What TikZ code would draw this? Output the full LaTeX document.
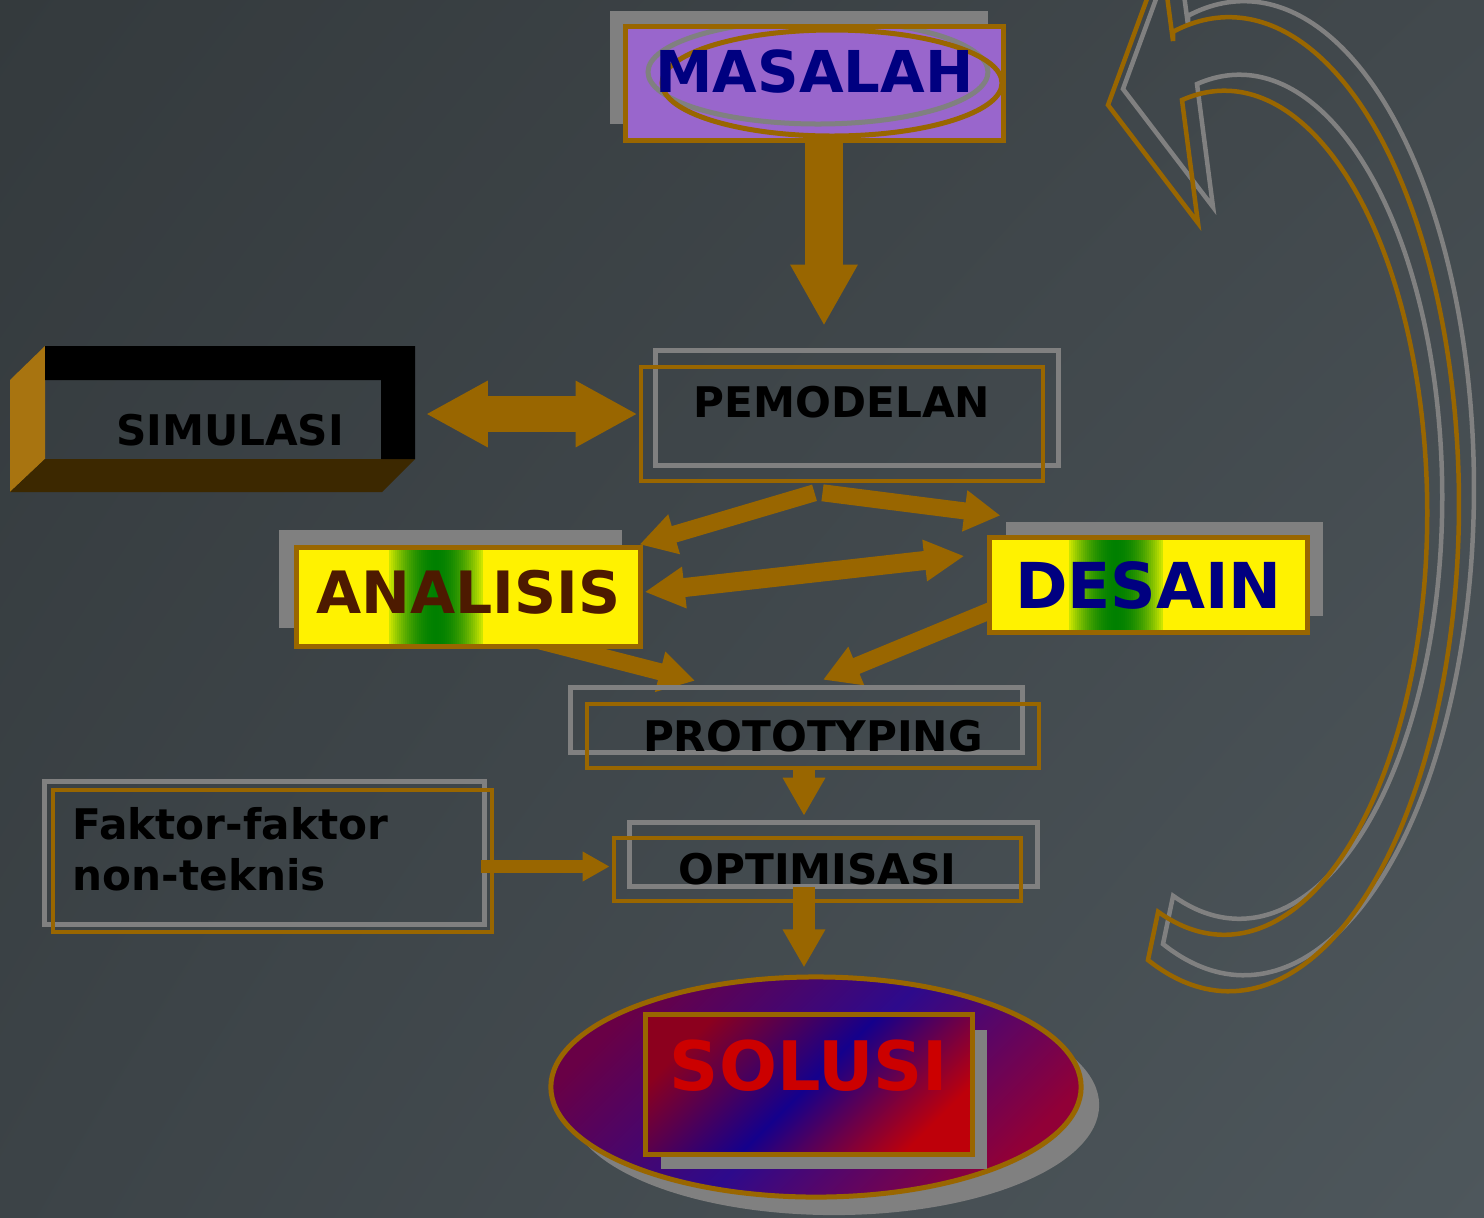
\documentclass[tikz,border=0pt]{standalone}
\usepackage{fontspec}
\setmainfont{DejaVu Sans}
\usepackage{xcolor}
\usepackage{tikz}
\usetikzlibrary{arrows.meta, shapes.geometric, shadows, shadings}

\definecolor{ochre}{RGB}{153,102,0}
\definecolor{shadowgray}{RGB}{128,128,128}
\definecolor{lilac}{RGB}{153,102,204}
\definecolor{navyblue}{RGB}{0,0,128}
\definecolor{darkbrown}{RGB}{77,26,0}
\definecolor{leafgreen}{RGB}{0,128,0}
\definecolor{solred}{RGB}{204,0,0}
\definecolor{sideface}{RGB}{168,116,16}
\definecolor{floorface}{RGB}{60,40,0}
\definecolor{bgtl}{RGB}{52,58,61}
\definecolor{bgtr}{RGB}{66,73,77}
\definecolor{bgbl}{RGB}{60,67,71}
\definecolor{bgbr}{RGB}{78,87,92}
\definecolor{ovaltop}{RGB}{105,0,70}
\definecolor{ovalmid}{RGB}{45,10,140}
\definecolor{ovalbot}{RGB}{145,0,55}
\definecolor{recttop}{RGB}{140,0,30}
\definecolor{rectmid}{RGB}{20,0,140}
\definecolor{rectbot}{RGB}{190,0,10}

\pgfdeclarelayer{under}
\pgfsetlayers{under,main}

\begin{document}
\begin{tikzpicture}[
  x = 0.01cm, y = -0.01cm,
  every node/.style = {inner sep=0pt},
  smalltext/.style = {font=\bfseries\fontsize{12}{14.4}\selectfont},
  bigtext/.style = {font=\bfseries\fontsize{#1}{#1}\selectfont},
  framebox/.style = {draw=ochre, line width=0.045cm, rectangle},
  ghost/.style 2 args = {general shadow={draw=shadowgray, line width=0.05cm,
      shadow xshift=#1, shadow yshift=#2}},
  ghostfill/.style 2 args = {general shadow={fill=shadowgray,
      shadow xshift=#1, shadow yshift=#2}},
  greenband/.style = {path picture={
      \foreach \i in {-23,...,23}{
        \pgfmathsetmacro\p{100-80*(\i/23)^2}
        \fill[leafgreen!\p!yellow]
          ([shift={(2*\i-34,-60)}]path picture bounding box.center) rectangle ++(2.3,120);
      }}},
  bigflow/.style = {draw=ochre, line width=0.37cm,
      -{Triangle[length=0.61cm, width=0.63cm]}},
  twoway/.style = {draw=ochre, line width=0.36cm,
      {Triangle[length=0.62cm, width=0.62cm]}-{Triangle[length=0.62cm, width=0.62cm]}},
  flow/.style = {draw=ochre, line width=0.17cm,
      -{Triangle[length=0.36cm, width=0.39cm]}},
  flowboth/.style = {draw=ochre, line width=0.19cm,
      {Triangle[length=0.40cm, width=0.39cm]}-{Triangle[length=0.40cm, width=0.39cm]}},
  downflow/.style = {draw=ochre, line width=0.22cm,
      -{Triangle[length=0.38cm, width=0.40cm]}},
  sideflow/.style = {draw=ochre, line width=0.13cm,
      -{Triangle[length=0.27cm, width=0.28cm]}},
  pics/loopback/.style = {code={
      \draw[line width=0.045cm, line join=miter]
        (1173,41) -- (1162,-42) -- (1108,105) -- (1198,223) -- (1182,100)
        arc[start angle=-102, end angle=109, x radius=203, y radius=422]
        -- (1148,960)
        arc[start angle=110.6, end angle=-104, x radius=230, y radius=487]
        -- cycle;}}
]
  \useasboundingbox (0,0) rectangle (1484,1217);
  \begin{pgfonlayer}{under}
    \shade[upper left=bgtl, upper right=bgtr, lower left=bgbl, lower right=bgbr]
      (0,0) rectangle (1484,1217);
  \end{pgfonlayer}
  \clip (0,0) rectangle (1484,1217);

  % big return arrow on the right
  \pic[shadowgray] at (15,-16) {loopback};
  \pic[ochre] at (0,0) {loopback};

  % 3d frame of the simulation box
  \fill[sideface] (10,380) -- (45,346) -- (45,459) -- (10,492) -- cycle;
  \fill[floorface] (10,492) -- (45,459) -- (415,459) -- (382,492) -- cycle;
  \fill[black] (45,346) -- (415,346) -- (415,459) -- (381,459) -- (381,380)
    -- (45,380) -- cycle;

  % boxes
  \node[smalltext, minimum width=3.70cm, minimum height=1.13cm,
        text height=0.86cm] (simulasi) at (230,402.5) {SIMULASI};
  \node[framebox, fill=lilac, line width=0.05cm, minimum width=3.77cm,
        minimum height=1.13cm, ghostfill={-0.155cm}{0.16cm}, bigtext=16.4,
        text=navyblue, text depth=0.25cm,
        path picture={
          \draw[shadowgray, line width=0.05cm]
            ([shift={(3.5,-11.5)}]path picture bounding box.center)
            ellipse[x radius=170, y radius=52];
          \draw[ochre, line width=0.05cm]
            ([shift={(17.5,-0.5)}]path picture bounding box.center)
            ellipse[x radius=170, y radius=53];}]
        (masalah) at (814.5,83.5) {MASALAH};
  \node[framebox, minimum width=4.02cm, minimum height=1.14cm,
        ghost={0.15cm}{0.16cm}, smalltext, text depth=0.44cm]
        (pemodelan) at (842,424) {PEMODELAN};
  \node[framebox, fill=yellow, line width=0.05cm, minimum width=3.43cm,
        minimum height=0.98cm, ghostfill={-0.18cm}{0.18cm}, greenband,
        bigtext=16.6, text=darkbrown, text depth=0.1cm]
        (analisis) at (468.5,597) {ANALISIS};
  \node[framebox, fill=yellow, line width=0.05cm, minimum width=3.17cm,
        minimum height=0.94cm, ghostfill={0.16cm}{0.16cm}, greenband,
        bigtext=18, text=navyblue]
        (desain) at (1148.5,585) {DESAIN};
  \node[framebox, minimum width=4.52cm, minimum height=0.64cm,
        ghost={-0.165cm}{0.16cm}, smalltext]
        (prototyping) at (813,736) {PROTOTYPING};
  \node[framebox, minimum width=4.07cm, minimum height=0.63cm,
        ghost={0.16cm}{0.15cm}, smalltext]
        (optimisasi) at (817.5,869.5) {OPTIMISASI};
  \node[framebox, minimum width=4.39cm, minimum height=1.42cm,
        ghost={-0.08cm}{0.08cm}, smalltext, text width=3.99cm, align=left]
        (faktor) at (272.5,861) {Faktor-faktor\\non-teknis\rule[-0.24cm]{0pt}{0pt}};
  \node[ellipse, draw=ochre, line width=0.05cm, minimum width=5.30cm,
        minimum height=2.20cm, ghostfill={0.18cm}{-0.18cm},
        top color=ovaltop, bottom color=ovalbot, middle color=ovalmid,
        shading angle=45] (oval) at (816,1087) {};
  \node[framebox, line width=0.05cm, minimum width=3.26cm, minimum height=1.39cm,
        ghostfill={0.15cm}{-0.15cm}, top color=recttop, bottom color=rectbot,
        middle color=rectmid, shading angle=45, bigtext=19.4, text=solred,
        text depth=0.39cm] (solusi) at (809,1084.5) {SOLUSI};

  % connectors
  \draw[bigflow] ([shift={(9.5,0)}]masalah.south) -- ([shift={(-18,-39)}]pemodelan.north);
  \draw[twoway] ([shift={(10,11.5)}]simulasi.east) -- ([shift={(-1,-10)}]pemodelan.west);
  \draw[flow] ([shift={(-27.5,9.5)}]pemodelan.south) -- ([shift={(-3,-1)}]analisis.north east);
  \draw[flow] ([shift={(-19.5,9.5)}]pemodelan.south) -- ([shift={(13,-20)}]desain.north west);
  \draw[flowboth] ([shift={(2,-5)}]analisis.east) -- ([shift={(-23,-29)}]desain.west);
  \begin{pgfonlayer}{under}
    \draw[flow] ([shift={(60,41)}]analisis.center) -- ([shift={(-118,-21)}]prototyping.north);
    \draw[flow] ([shift={(20,18.5)}]desain.west) -- ([shift={(10,-22)}]prototyping.north);
  \end{pgfonlayer}
  \draw[downflow] ([shift={(-9,-4)}]prototyping.south) -- ([shift={(-13.5,-20)}]optimisasi.north);
  \draw[downflow] ([shift={(-13.5,-16)}]optimisasi.south) -- ([shift={(-12,-7)}]oval.north);
  \draw[sideflow] ([shift={(-13,5.5)}]faktor.east) -- ([shift={(-2,-3)}]optimisasi.west);
\end{tikzpicture}
\end{document}
